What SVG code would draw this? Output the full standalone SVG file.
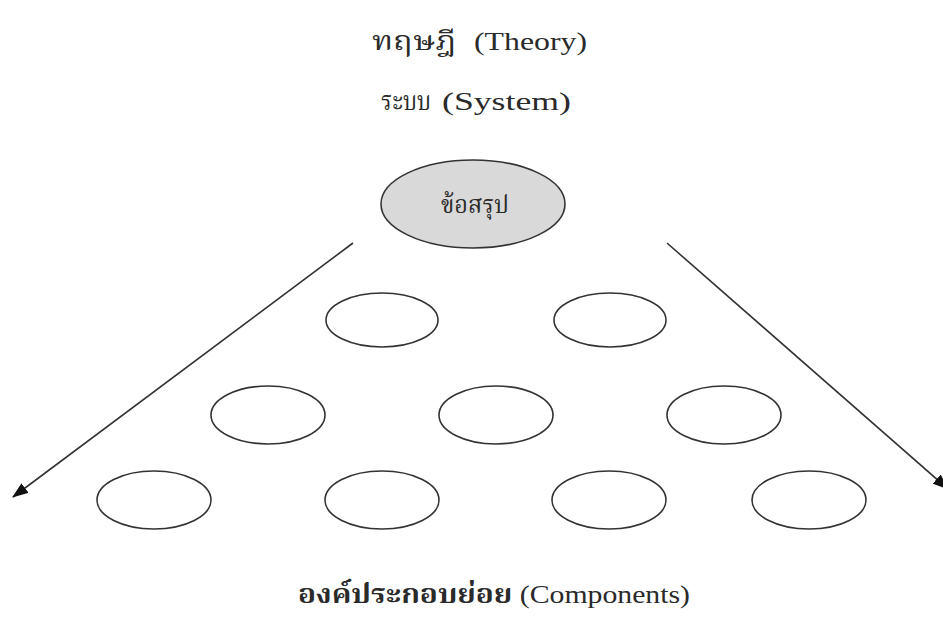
<svg xmlns="http://www.w3.org/2000/svg" width="943" height="636" viewBox="0 0 943 636">
<defs>
<marker id="ah" markerWidth="16" markerHeight="12" refX="15" refY="6" orient="auto" markerUnits="userSpaceOnUse">
<path d="M0,0 L16,6 L0,12 Z" fill="#111"/>
</marker>
<style>
.t{font-family:"Liberation Serif","Noto Serif Thai","Noto Sans Thai",serif;font-size:26px;fill:#2a2a2a}
.th{font-family:"Noto Serif Thai","Noto Sans Thai","Liberation Sans",sans-serif}
.e{fill:none;stroke:#333;stroke-width:1.6}
.c{stroke:#333;stroke-width:1.6;fill:none}
</style>
</defs>
<rect width="943" height="636" fill="#fff"/>
<g id="title-theory">
<text class="t th" x="372" y="50" textLength="84" lengthAdjust="spacingAndGlyphs">ทฤษฎี</text>
<text class="t" x="474" y="50" textLength="113" lengthAdjust="spacingAndGlyphs">(Theory)</text>
</g>
<g id="title-system">
<text class="t th" x="381" y="110" textLength="50" lengthAdjust="spacingAndGlyphs" style="font-size:27px">ระบบ</text>
<text class="t" x="442" y="110" textLength="129" lengthAdjust="spacingAndGlyphs">(System)</text>
</g>
<g id="conclusion">
<ellipse cx="473" cy="204" rx="92" ry="44" fill="#d9d9d9" stroke="#333" stroke-width="1.6"/>
<text class="t th" x="441" y="213" textLength="68" lengthAdjust="spacingAndGlyphs" style="font-size:25px">ข้อสรุป</text>
</g>
<g id="connectors">
<line class="c" x1="353" y1="243" x2="13" y2="497" marker-end="url(#ah)"/>
<line class="c" x1="667" y1="243" x2="948" y2="489" marker-end="url(#ah)"/>
</g>
<g id="c1"><ellipse class="e" cx="382" cy="320" rx="56" ry="27"/></g>
<g id="c2"><ellipse class="e" cx="610" cy="320" rx="56" ry="27"/></g>
<g id="c3"><ellipse class="e" cx="268" cy="415" rx="57" ry="29"/></g>
<g id="c4"><ellipse class="e" cx="496" cy="415" rx="57" ry="29"/></g>
<g id="c5"><ellipse class="e" cx="724" cy="415" rx="57" ry="29"/></g>
<g id="c6"><ellipse class="e" cx="154" cy="500" rx="57" ry="29"/></g>
<g id="c7"><ellipse class="e" cx="382" cy="500" rx="57" ry="29"/></g>
<g id="c8"><ellipse class="e" cx="609" cy="500" rx="57" ry="29"/></g>
<g id="c9"><ellipse class="e" cx="809" cy="500" rx="57" ry="29"/></g>
<g id="components-label">
<text class="t" x="298" y="603" textLength="392" lengthAdjust="spacingAndGlyphs"><tspan class="th" font-weight="bold">องค์ประกอบย่อย</tspan> (Components)</text>
</g>
</svg>
